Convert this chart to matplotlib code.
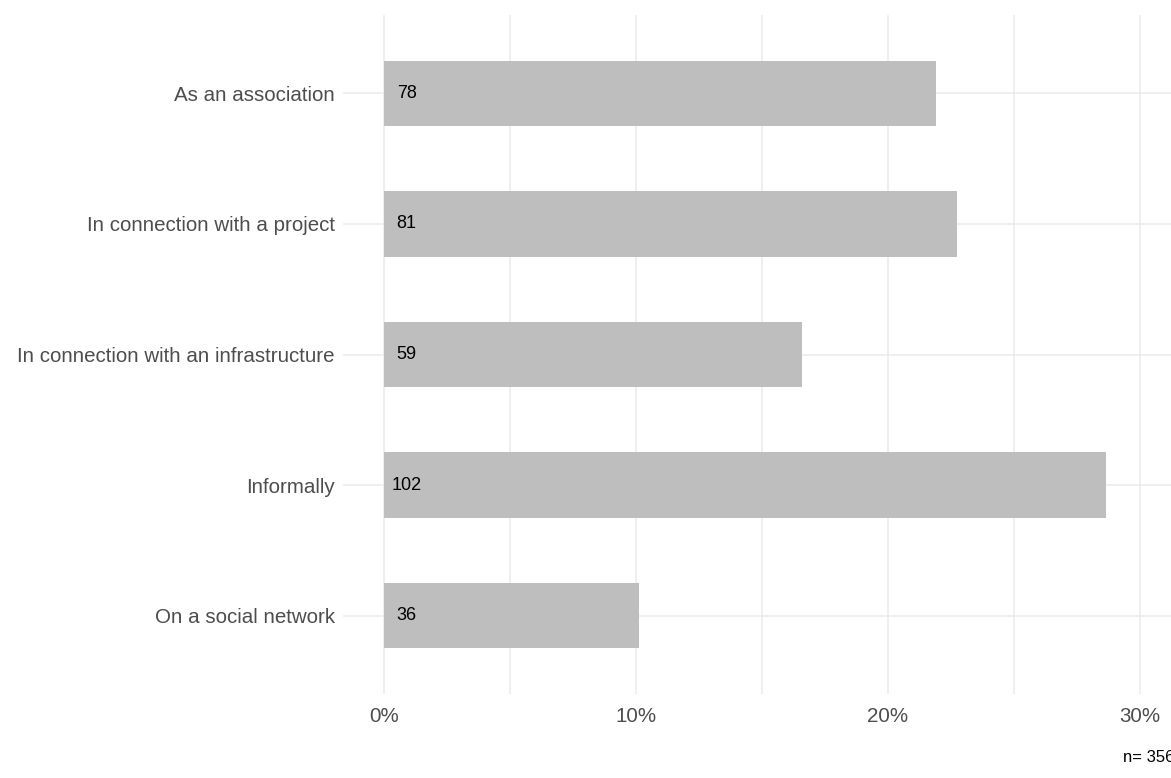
import matplotlib
matplotlib.use("Agg")
import matplotlib.pyplot as plt
import numpy as np

categories = ["As an association", "In connection with a project",
              "In connection with an infrastructure", "Informally",
              "On a social network"]
counts = [78, 81, 59, 102, 36]
n_total = 356
x_ticks = [0, 10, 20, 30]
x_tick_labels = ["0%", "10%", "20%", "30%"]
caption = "n= 356"

plt.rcParams['font.family'] = ['Liberation Sans', 'DejaVu Sans']

W, H = 1171, 778
fig = plt.figure(figsize=(W / 100, H / 100), dpi=100)
ax = fig.add_axes([343 / W, 1 - 694 / H, (W - 343) / W, (694 - 15) / H])

pct = [c / n_total * 100 for c in counts]
ypos = np.arange(len(categories))[::-1] + 1  # first category on top

ax.barh(ypos, pct, height=0.5, color="#BEBEBE", zorder=2)
for y, c in zip(ypos, counts):
    ax.text(0.9, y, str(c), ha="center", va="center", fontsize=13,
            color="black", zorder=3)

ax.set_xlim(-1.627, 31.23)
ax.set_ylim(0.4, 5.6)
ax.set_yticks(ypos)
ax.set_yticklabels(categories)
ax.set_xticks(x_ticks)
ax.set_xticklabels(x_tick_labels)
ax.set_xticks([5, 15, 25], minor=True)
ax.tick_params(axis="both", which="both", length=0, labelsize=14.8,
               labelcolor="#4D4D4D")
ax.tick_params(axis="x", pad=9)
ax.tick_params(axis="y", pad=6)
ax.grid(True, which="major", color="#EBEBEB", linewidth=1.1, zorder=0)
ax.grid(True, which="minor", axis="x", color="#EBEBEB", linewidth=1.1, zorder=0)
for s in ax.spines.values():
    s.set_visible(False)

fig.text(1123 / W, 1 - 757 / H, caption, ha="left", va="center",
         fontsize=12, color="black")

fig.savefig("out.png", dpi=100)
